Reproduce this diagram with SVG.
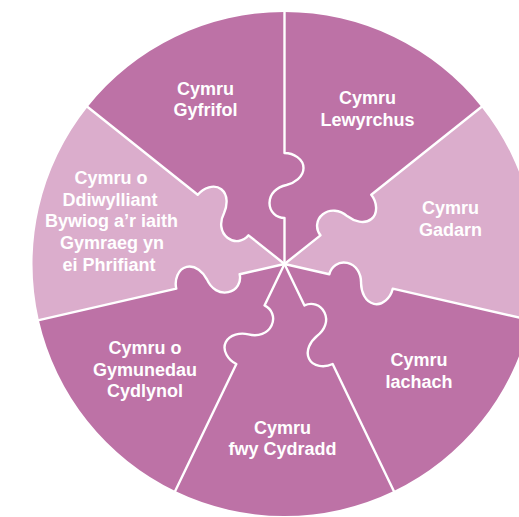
<svg xmlns="http://www.w3.org/2000/svg" xmlns:xlink="http://www.w3.org/1999/xlink" width="519" height="517" viewBox="0 0 519 517">
<style>
.dark{fill:#bd72a6}
.light{fill:#dbadcc}
.spoke{fill:none;stroke:#ffffff;stroke-width:2.4;stroke-linejoin:round}
.lbl{font-family:"Liberation Sans",Arial,sans-serif;font-weight:bold;font-size:18px;fill:#ffffff;text-anchor:middle}
</style>
<defs>
<path id="piece" d="M0 0 L0 -46 C-8 -46 -15 -52 -15 -61 C-15 -70 -8 -77 2 -79 C10 -81 19 -87 19 -96 C19 -105 9 -111 0 -111 L0 -252 A252 252 0 0 1 197.02 -157.12 L86.78 -69.21 C92.39 -62.17 93.94 -50.61 86.90 -45.00 C79.87 -39.39 69.56 -42.68 63.01 -47.69 C55.21 -54.26 45.38 -55.37 38.34 -49.76 C31.30 -44.15 30.98 -34.94 35.96 -28.68 Z"/>
<path id="spoke" d="M0 0 L0 -46 C-8 -46 -15 -52 -15 -61 C-15 -70 -8 -77 2 -79 C10 -81 19 -87 19 -96 C19 -105 9 -111 0 -111 L0 -253"/>
</defs>
<rect width="519" height="517" fill="#ffffff"/>
<g id="node-lewyrchus">
<use xlink:href="#piece" class="dark" transform="translate(284.5,264) rotate(0)"/>
<text class="lbl" x="367.5" y="104">Cymru</text>
<text class="lbl" x="367.5" y="126">Lewyrchus</text>
</g>
<g id="node-gadarn">
<use xlink:href="#piece" class="light" transform="translate(284.5,264) rotate(51.4286)"/>
<text class="lbl" x="450.5" y="214">Cymru</text>
<text class="lbl" x="450.5" y="236">Gadarn</text>
</g>
<g id="node-iachach">
<use xlink:href="#piece" class="dark" transform="translate(284.5,264) rotate(102.8571)"/>
<text class="lbl" x="419" y="366">Cymru</text>
<text class="lbl" x="419" y="387.5">Iachach</text>
</g>
<g id="node-cydradd">
<use xlink:href="#piece" class="dark" transform="translate(284.5,264) rotate(154.2857)"/>
<text class="lbl" x="282.5" y="433.5">Cymru</text>
<text class="lbl" x="282.5" y="455">fwy Cydradd</text>
</g>
<g id="node-cymunedau">
<use xlink:href="#piece" class="dark" transform="translate(284.5,264) rotate(205.7143)"/>
<text class="lbl" x="145" y="354">Cymru o</text>
<text class="lbl" x="145" y="375.5">Gymunedau</text>
<text class="lbl" x="145" y="397">Cydlynol</text>
</g>
<g id="node-diwylliant">
<use xlink:href="#piece" class="light" transform="translate(284.5,264) rotate(257.1429)"/>
<text class="lbl" x="111" y="184">Cymru o</text>
<text class="lbl" x="110" y="205.5">Ddiwylliant</text>
<text class="lbl" x="111.5" y="227">Bywiog a’r iaith</text>
<text class="lbl" x="112" y="248.5">Gymraeg yn</text>
<text class="lbl" x="109" y="270.5">ei Phrifiant</text>
</g>
<g id="node-gyfrifol">
<use xlink:href="#piece" class="dark" transform="translate(284.5,264) rotate(308.5714)"/>
<text class="lbl" x="205.5" y="94.5">Cymru</text>
<text class="lbl" x="205.5" y="115.5">Gyfrifol</text>
</g>
<g id="connectors">
<use xlink:href="#spoke" class="spoke" transform="translate(284.5,264) rotate(0)"/>
<use xlink:href="#spoke" class="spoke" transform="translate(284.5,264) rotate(51.4286)"/>
<use xlink:href="#spoke" class="spoke" transform="translate(284.5,264) rotate(102.8571)"/>
<use xlink:href="#spoke" class="spoke" transform="translate(284.5,264) rotate(154.2857)"/>
<use xlink:href="#spoke" class="spoke" transform="translate(284.5,264) rotate(205.7143)"/>
<use xlink:href="#spoke" class="spoke" transform="translate(284.5,264) rotate(257.1429)"/>
<use xlink:href="#spoke" class="spoke" transform="translate(284.5,264) rotate(308.5714)"/>
</g>
</svg>
